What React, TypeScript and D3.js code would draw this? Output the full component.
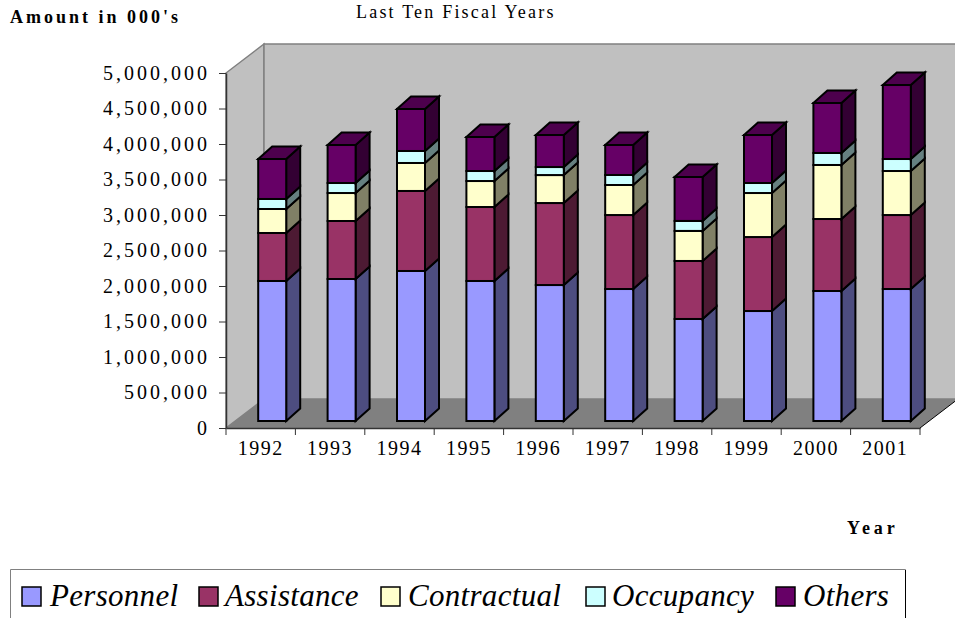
import { useEffect, useRef } from "react";
import * as d3 from "d3";

const years = ["1992", "1993", "1994", "1995", "1996", "1997", "1998", "1999", "2000", "2001"];
const seriesNames = ["Personnel", "Assistance", "Contractual", "Occupancy", "Others"];

// values in 000's
const personnel = [1972, 2000, 2113, 1972, 1915, 1859, 1437, 1549, 1831, 1859];
const assistance = [676, 817, 1127, 1042, 1155, 1042, 817, 1042, 1014, 1042];
const contractual = [338, 394, 394, 366, 394, 423, 423, 620, 761, 620];
const occupancy = [141, 141, 169, 141, 113, 141, 141, 141, 169, 169];
const others = [563, 535, 592, 479, 451, 423, 620, 676, 704, 1042];

const yTicks = [0, 500, 1000, 1500, 2000, 2500, 3000, 3500, 4000, 4500, 5000];

const frontColors = ["#9999ff", "#993366", "#ffffcc", "#ccffff", "#660066"];
const sideColors = ["#4d4d80", "#4d1a33", "#808066", "#668080", "#330033"];
const topColor = "#4d004d";

const width = 955;
const height = 618;
const serif = "'Liberation Serif', 'Times New Roman', serif";

const App = () => {
  const svgRef = useRef<SVGSVGElement>(null);

  useEffect(() => {
    const svg = d3.select(svgRef.current);
    svg.selectAll("*").remove();

    const rows = years.map((year, i) => ({
      year,
      Personnel: personnel[i],
      Assistance: assistance[i],
      Contractual: contractual[i],
      Occupancy: occupancy[i],
      Others: others[i],
    }));
    const stacked = d3.stack<any>().keys(seriesNames)(rows);

    // front plane of the 3D box
    const x = d3.scaleBand().domain(years).range([226, 920]);
    const y = d3.scaleLinear().domain([0, 5000]).range([428, 73]);

    const depth = { x: 38, y: -29 };
    const barDepth = { x: 14, y: -12.5 };
    const barShift = { x: 11.5, y: -7 };
    const barWidth = 28;

    const poly = (pts: number[][]) => pts.map((p) => p.join(",")).join(" ");

    const [x0, x1] = x.range();
    const y0 = y(0);
    const yTop = y(5000);

    // walls and floor
    svg.append("polygon")
      .attr("points", poly([[x0, y0], [x0, yTop], [x0 + depth.x, yTop + depth.y], [x0 + depth.x, y0 + depth.y]]))
      .attr("fill", "#c0c0c0")
      .attr("stroke", "#808080")
      .attr("stroke-width", 1.5);
    svg.append("polygon")
      .attr("points", poly([[x0 + depth.x, yTop + depth.y], [width + 10, yTop + depth.y], [width + 10, y0 + depth.y], [x0 + depth.x, y0 + depth.y]]))
      .attr("fill", "#c0c0c0")
      .attr("stroke", "#808080")
      .attr("stroke-width", 1.5);
    svg.append("polygon")
      .attr("points", poly([[x0, y0], [x0 + depth.x, y0 + depth.y], [x1 + depth.x, y0 + depth.y], [x1, y0]]))
      .attr("fill", "#808080");
    svg.append("line")
      .attr("x1", x1).attr("y1", y0)
      .attr("x2", x1 + depth.x).attr("y2", y0 + depth.y)
      .attr("stroke", "#000").attr("stroke-width", 1);

    // bars, bottom segment first, columns left to right
    years.forEach((year, i) => {
      const left = (x(year) as number) + x.bandwidth() / 2 + barShift.x - barWidth / 2;
      const right = left + barWidth;
      stacked.forEach((layer, s) => {
        const yb = y(layer[i][0]) + barShift.y;
        const yt = y(layer[i][1]) + barShift.y;
        const g = svg.append("g").attr("stroke", "#000").attr("stroke-width", 2).attr("stroke-linejoin", "miter");
        g.append("polygon")
          .attr("points", poly([[right, yb], [right, yt], [right + barDepth.x, yt + barDepth.y], [right + barDepth.x, yb + barDepth.y]]))
          .attr("fill", sideColors[s]);
        g.append("rect")
          .attr("x", left).attr("y", yt)
          .attr("width", barWidth).attr("height", yb - yt)
          .attr("fill", frontColors[s]);
        if (s === stacked.length - 1) {
          g.append("polygon")
            .attr("points", poly([[left, yt], [left + barDepth.x, yt + barDepth.y], [right + barDepth.x, yt + barDepth.y], [right, yt]]))
            .attr("fill", topColor);
        }
      });
    });

    // axes
    const yAxis = svg.append("g").attr("transform", `translate(${x0},0)`)
      .call(d3.axisLeft(y).tickValues(yTicks).tickSize(7).tickSizeOuter(0).tickPadding(9)
        .tickFormat((d) => (d === 0 ? "0" : d3.format(",")(+d * 1000))));
    const xAxis = svg.append("g").attr("transform", `translate(0,${y0})`)
      .call(d3.axisBottom(x).tickSize(0).tickSizeOuter(0).tickPadding(13));

    xAxis.selectAll(".tick")
      .attr("transform", (d: any) => `translate(${(x(d) as number) + x.bandwidth() / 2},0)`);
    [...years.map((d) => x(d) as number), x1].forEach((t) => {
      xAxis.append("line")
        .attr("x1", t).attr("x2", t).attr("y1", 0).attr("y2", 7)
        .attr("stroke", "#333");
    });

    [yAxis, xAxis].forEach((a) => {
      a.selectAll(".domain").attr("stroke", "#333").attr("stroke-width", 1.5);
      a.selectAll(".tick line").attr("stroke", "#333");
      a.selectAll("text")
        .attr("font-family", serif)
        .attr("font-size", 20)
        .attr("fill", "#000");
    });
    yAxis.selectAll("text").attr("letter-spacing", 3);
    xAxis.selectAll("text").attr("letter-spacing", 1.5);

    // titles
    svg.append("text").attr("x", 10).attr("y", 23)
      .attr("font-family", serif).attr("font-size", 18).attr("font-weight", "bold")
      .attr("letter-spacing", 3).text("Amount in 000's");
    svg.append("text").attr("x", 356).attr("y", 18)
      .attr("font-family", serif).attr("font-size", 18).attr("letter-spacing", 2.2)
      .text("Last Ten Fiscal Years");
    svg.append("text").attr("x", 847).attr("y", 534)
      .attr("font-family", serif).attr("font-size", 18).attr("font-weight", "bold")
      .attr("letter-spacing", 3.9).text("Year");

    // legend, cut off by the bottom of the picture
    svg.append("path")
      .attr("d", `M10.5,${height}V569.5H905.5V${height}`)
      .attr("fill", "#fff").attr("stroke", "#808080").attr("stroke-width", 1);
    svg.append("line")
      .attr("x1", 905.5).attr("x2", 905.5).attr("y1", 570).attr("y2", height)
      .attr("stroke", "#000");

    const legendX = [22, 199, 381, 586, 776];
    const legendTextX = [50, 225, 408, 612, 803];
    seriesNames.forEach((name, i) => {
      svg.append("rect")
        .attr("x", legendX[i]).attr("y", 587)
        .attr("width", 19).attr("height", 19)
        .attr("fill", frontColors[i]).attr("stroke", "#000").attr("stroke-width", 1.5);
      svg.append("text")
        .attr("x", legendTextX[i]).attr("y", 606)
        .attr("font-family", serif).attr("font-size", 31).attr("font-style", "italic")
        .attr("letter-spacing", 0.3).text(name);
    });
  }, []);

  return (
    <svg
      ref={svgRef}
      width={width}
      height={height}
      style={{ position: "absolute", left: 0, top: 0, display: "block", background: "#fff" }}
    />
  );
};

export default App;
